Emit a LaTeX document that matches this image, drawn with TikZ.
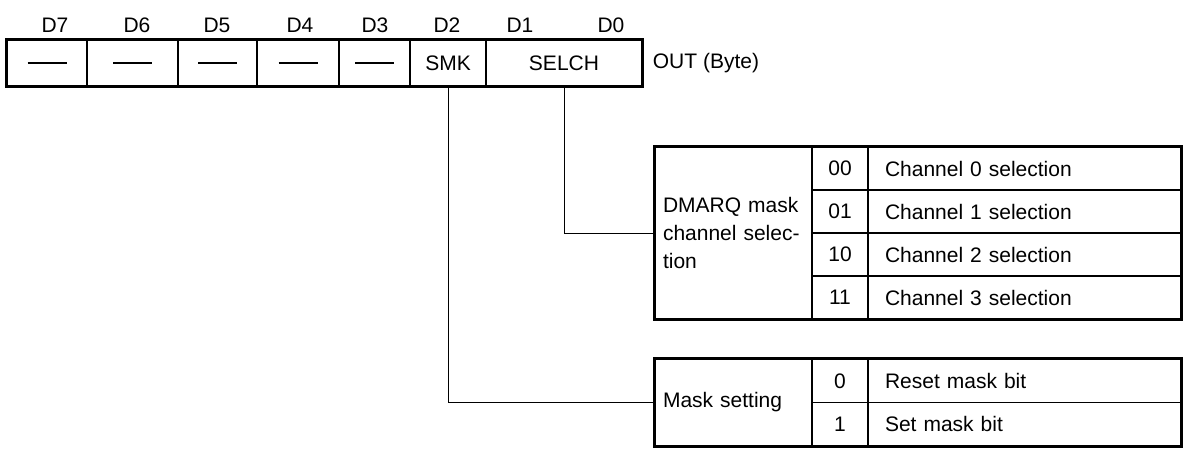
\documentclass[tikz,border=0pt]{standalone}
\usepackage{fontspec}
\setmainfont{Liberation Sans}
\usepackage{tikz}
\usetikzlibrary{positioning}
\tikzset{
  regcell/.style  ={draw,line width=0.8pt,inner sep=0pt,minimum height=23pt},
  bitlab/.style   ={inner sep=1pt},
  tabcell/.style  ={draw,line width=0.8pt,inner sep=0pt,minimum height=21.5pt},
  codecell/.style ={tabcell,minimum width=28pt},
  desccell/.style ={tabcell,minimum width=156.5pt,text width=139.5pt,align=left},
  labcell/.style  ={tabcell,minimum width=78.5pt,text width=70.5pt,align=left},
  outline/.style  ={draw,line width=1.5pt},
  link/.style     ={line width=0.5pt},
}
\newcommand{\nobit}{\rule{19.5pt}{0.9pt}}

\begin{document}
\begin{tikzpicture}[x=0.5pt,y=-0.5pt,font=\fontsize{10.5}{14}\selectfont]
\useasboundingbox (0,0) rectangle (1184,450);

% --- register ----------------------------------------------------------------
\node[regcell,minimum width=40pt]   (b7)  at (47,63)    {\nobit};
\node[regcell,minimum width=45.5pt] (b6)  at (132.5,63) {\nobit};
\node[regcell,minimum width=39.5pt] (b5)  at (217.5,63) {\nobit};
\node[regcell,minimum width=41pt]   (b4)  at (298,63)   {\nobit};
\node[regcell,minimum width=35.5pt] (b3)  at (374.5,63) {\nobit};
\node[regcell,minimum width=38pt]   (smk) at (448,63)   {SMK};
\node[regcell,minimum width=78pt]   (sel) at (564,63)   {SELCH};
\draw[outline] (b7.north west) rectangle (sel.south east);
\node[right=1.5pt of sel] (out) {OUT (Byte)};

\node[bitlab] (l7) at (55,25)  {D7};
\node[bitlab] (l6) at (137,25) {D6};
\node[bitlab] (l5) at (217,25) {D5};
\node[bitlab] (l4) at (300,25) {D4};
\node[bitlab] (l3) at (375,25) {D3};
\node[bitlab] (l2) at (447,25) {D2};
\node[bitlab] (l1) at (520,25) {D1};
\node[bitlab] (l0) at (611,25) {D0};

% --- SELCH table --------------------------------------------------------------
\node[labcell,minimum height=86pt] (chlab) at (733.5,233)
  {DMARQ mask\\ channel selec-\\ tion};
\node[codecell] (c00) at (840,168.5) {00};
\node[codecell] (c01) at (840,211.5) {01};
\node[codecell] (c10) at (840,254.5) {10};
\node[codecell] (c11) at (840,297.5) {11};
\node[desccell] (d00) at (1024.5,168.5) {Channel 0 selection};
\node[desccell] (d01) at (1024.5,211.5) {Channel 1 selection};
\node[desccell] (d10) at (1024.5,254.5) {Channel 2 selection};
\node[desccell] (d11) at (1024.5,297.5) {Channel 3 selection};
\draw[outline] (chlab.north west) rectangle (d11.south east);

% --- SMK table ----------------------------------------------------------------
\node[labcell,minimum height=43pt] (mklab) at (733.5,402.5) {Mask setting};
\node[codecell] (m0) at (840,381)    {0};
\node[codecell] (m1) at (840,424)    {1};
\node[desccell] (r0) at (1024.5,381) {Reset mask bit};
\node[desccell] (r1) at (1024.5,424) {Set mask bit};
\draw[outline] (mklab.north west) rectangle (r1.south east);

% --- links ----------------------------------------------------------------------
\draw[link] (sel.south) |- (chlab.west);
\draw[link] (smk.south) |- (mklab.west);

\end{tikzpicture}
\end{document}
